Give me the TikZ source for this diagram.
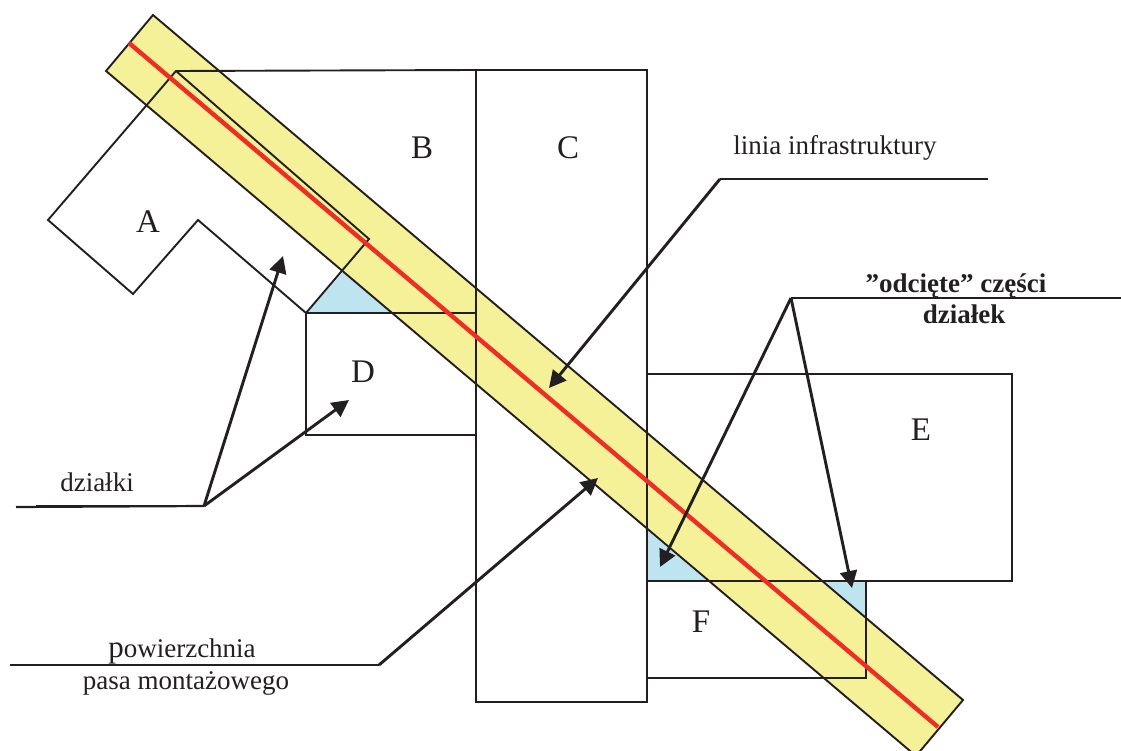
\documentclass[tikz,border=0pt]{standalone}
\usepackage{fontspec}
\setmainfont{Liberation Serif}
\usetikzlibrary{arrows.meta}
\definecolor{ink}{HTML}{231F20}
\definecolor{bandyellow}{HTML}{F4F198}
\definecolor{cutblue}{HTML}{BEE5EF}
\definecolor{axisred}{HTML}{EE2E24}
\tikzset{
  outline/.style={draw=ink,line width=1.9pt,line join=miter},
  leader/.style={draw=ink,line width=2.2pt},
  pointer/.style={draw=ink,line width=2.9pt,-{Triangle[length=17pt,width=17pt]}},
  letter/.style={text=ink,inner sep=0pt,font=\fontsize{33}{36}\selectfont},
  caption/.style={text=ink,inner sep=0pt,font=\fontsize{27}{30}\selectfont},
  boldcaption/.style={text=ink,inner sep=0pt,font=\bfseries\fontsize{27}{30}\selectfont}
}
\begin{document}
\begin{tikzpicture}[x=1pt,y=-1pt]
\useasboundingbox (0,0) rectangle (1121,751);
\begin{scope}
\clip (0,0) rectangle (1121,751);
% band
\fill[bandyellow] (153,15) -- (963,700) -- (916,756) -- (106,71) -- cycle;
% cut parts
\fill[cutblue] (343,272) -- (306,313) -- (393,313) -- cycle;
\fill[cutblue] (647,530) -- (647,581) -- (707,581) -- cycle;
\fill[cutblue] (822,581) -- (866,581) -- (866,617) -- cycle;
\draw[outline] (153,15) -- (963,700) -- (916,756) -- (106,71) -- cycle;
\end{scope}
% parcels
\coordinate (apexAB) at (176,71);
\coordinate (cTL) at (476,70);
\draw[outline] (306,313) -- (198,220) -- (133,294) -- (48,220) -- (apexAB) -- (cTL);
\draw[outline] (apexAB) -- (369,239) -- (306,313);
\draw[outline] (476,70) rectangle (647,702);
\draw[outline] (306,313) rectangle (476,435);
\draw[outline] (647,374) -- (1012,374) -- (1012,581) -- (647,581);
\draw[outline] (647,581) -- (866,581) -- (866,678) -- (647,678);
% axis
\draw[axisred,line width=4.4pt] (129,43) -- (938,727);
% letters
\node[letter] (la) at (148,222) {A};
\node[letter] (lb) at (422,148) {B};
\node[letter] (lc) at (568,148) {C};
\node[letter] (ld) at (363,372) {D};
\node[letter] (le) at (921,430) {E};
\node[letter] (lf) at (701,622) {F};
% captions
\node[caption,anchor=base] (t1) at (835,155) {linia infrastruktury};
\node[caption,anchor=base] (t2) at (97,491) {działki};
\node[caption,anchor=base] (t3) at (182,657) {{\fontsize{31}{30}\selectfont p}owierzchnia};
\node[caption,anchor=base] (t4) at (186,689) {pasa montażowego};
\node[boldcaption,anchor=base] (t5) at (956,292) {”odcięte” części};
\node[boldcaption,anchor=base] (t6) at (964,323) {działek};
% leaders
\coordinate (l1a) at (988,179); \coordinate (l1b) at (720,179); \coordinate (l1t) at (549,388);
\coordinate (l2a) at (16,507); \coordinate (l2b) at (204,506); \coordinate (l2t) at (283,256); \coordinate (l2u) at (349,400);
\coordinate (l2c) at (36,506); \coordinate (l2d) at (178,506);
\coordinate (l3a) at (10,665); \coordinate (l3b) at (379,665); \coordinate (l3t) at (598,478);
\coordinate (l4a) at (1121,298); \coordinate (l4b) at (791,298); \coordinate (l4t) at (660,567); \coordinate (l4u) at (852,588);
\draw[leader] (l1a) -- (l1b);
\draw[pointer] (l1b) -- (l1t);
\draw[leader] (l2a) -- (l2b);
\draw[leader] (l2c) -- (l2d);
\draw[pointer] (l2b) -- (l2t);
\draw[pointer] (l2b) -- (l2u);
\draw[leader] (l3a) -- (l3b);
\draw[pointer] (l3b) -- (l3t);
\draw[leader] (l4a) -- (l4b);
\draw[pointer] (l4b) -- (l4t);
\draw[pointer] (l4b) -- (l4u);
\end{tikzpicture}
\end{document}
